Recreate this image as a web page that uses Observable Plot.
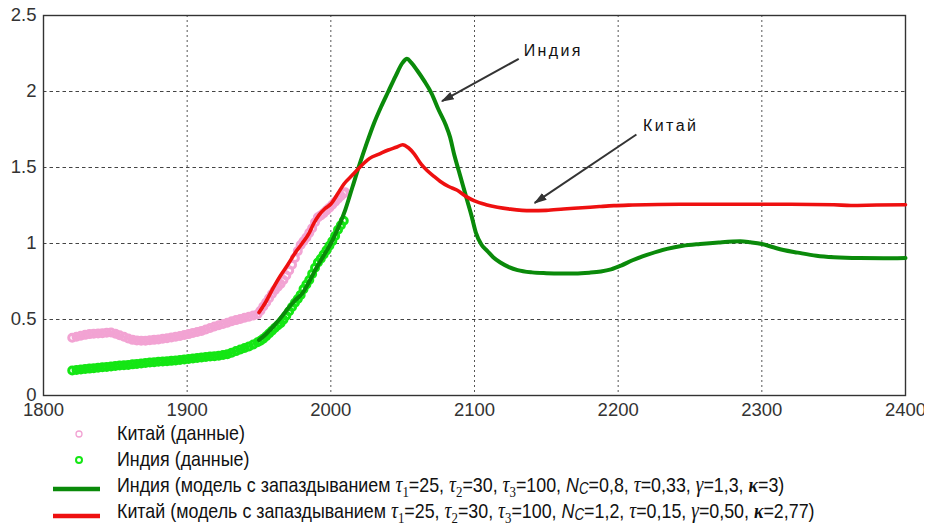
<!DOCTYPE html>
<html>
<head>
<meta charset="utf-8">
<script src="https://cdn.jsdelivr.net/npm/d3@7"></script>
<script src="https://cdn.jsdelivr.net/npm/@observablehq/plot@0.6"></script>
<style>
  html, body { margin: 0; padding: 0; background: #fff; }
  #wrap { width: 936px; height: 528px; overflow: hidden; position: relative; background: #fff; }
  #chart { width: 924px; height: 420px; overflow: hidden; }
  #chart svg { max-width: none !important; }
  #legend { position: absolute; left: 0; top: 420px; font-family: "Liberation Sans", Arial, sans-serif; font-size: 21px; color: #111; }
  .row { height: 26px; display: flex; align-items: center; white-space: nowrap; }
  .key { width: 117px; height: 26px; flex: none; }
  .t { display: inline-block; transform: scaleX(0.85); transform-origin: 0 50%; }
  .g { font-family: "Liberation Serif", serif; font-style: italic; font-size: 1.08em; }
  .k { font-family: "Liberation Serif", serif; font-style: italic; font-weight: bold; }
  .s { font-family: "Liberation Serif", serif; font-size: 0.72em; position: relative; top: 0.3em; }
  .n { font-style: italic; }
  .c { font-style: italic; font-size: 0.75em; position: relative; top: 0.15em; }
</style>
</head>
<body>
<div id="wrap">
  <div id="chart"></div>
  <div id="legend"></div>
</div>
<script>
// Axis ticks
const xTicks = [1800, 1900, 2000, 2100, 2200, 2300, 2400];
const yTicks = [0, 0.5, 1, 1.5, 2, 2.5];

// China, observed (relative units)
const chinaDataYears = [1820,1823,1826,1829,1832,1835,1838,1841,1844,1847,1850,1853,1856,1859,1862,1865,1868,1871,1874,1877,1880,1883,1886,1889,1892,1895,1898,1901,1904,1907,1910,1913,1916,1919,1922,1925,1928,1931,1934,1937,1940,1943,1946,1949,1951,1953,1955,1957,1959,1961,1963,1965,1967,1969,1971,1973,1975,1977,1979,1981,1983,1985,1987,1989,1991,1993,1995,1997,1999,2001,2003,2005,2007,2009,2010];
const chinaDataValues = [0.380,0.386,0.393,0.399,0.404,0.406,0.408,0.410,0.413,0.414,0.407,0.396,0.386,0.375,0.366,0.362,0.360,0.361,0.364,0.366,0.369,0.373,0.377,0.381,0.386,0.391,0.398,0.404,0.412,0.418,0.425,0.434,0.444,0.454,0.462,0.470,0.479,0.488,0.496,0.503,0.511,0.518,0.526,0.535,0.558,0.585,0.612,0.640,0.668,0.693,0.714,0.734,0.760,0.790,0.823,0.860,0.905,0.950,0.990,1.015,1.040,1.070,1.100,1.140,1.172,1.185,1.200,1.218,1.236,1.255,1.275,1.294,1.312,1.330,1.337];

// India, observed (relative units)
const indiaDataYears = [1820,1823,1826,1829,1832,1835,1838,1841,1844,1847,1850,1853,1856,1859,1862,1865,1868,1871,1874,1877,1880,1883,1886,1889,1892,1895,1898,1901,1904,1907,1910,1913,1916,1919,1922,1925,1928,1931,1934,1937,1940,1943,1946,1949,1951,1953,1955,1957,1959,1961,1963,1965,1967,1969,1971,1973,1975,1977,1979,1981,1983,1985,1987,1989,1991,1993,1995,1997,1999,2001,2003,2005,2007,2009];
const indiaDataValues = [0.165,0.168,0.171,0.174,0.177,0.180,0.183,0.186,0.188,0.191,0.194,0.197,0.199,0.201,0.205,0.208,0.211,0.214,0.217,0.219,0.222,0.224,0.226,0.228,0.231,0.234,0.237,0.240,0.243,0.247,0.250,0.253,0.256,0.259,0.262,0.266,0.272,0.282,0.292,0.303,0.313,0.323,0.335,0.350,0.360,0.374,0.390,0.408,0.426,0.444,0.460,0.475,0.499,0.525,0.554,0.582,0.610,0.635,0.662,0.700,0.730,0.760,0.800,0.840,0.875,0.900,0.928,0.955,0.985,1.015,1.050,1.090,1.120,1.150];

// India, delayed model
const indiaModelYears = [1950,1955,1960,1965,1970,1975,1980,1985,1990,1995,2000,2005,2010,2015,2020,2025,2030,2035,2040,2045,2050,2053,2056,2060,2065,2070,2075,2080,2083,2086,2089,2092,2095,2098,2101,2105,2109,2113,2118,2124,2130,2140,2150,2160,2170,2180,2188,2195,2202,2210,2220,2234,2245,2257,2270,2285,2292,2300,2308,2315,2325,2338,2350,2368,2385,2400];
const indiaModelValues = [0.365,0.405,0.455,0.510,0.570,0.625,0.670,0.750,0.840,0.920,1.000,1.100,1.220,1.370,1.520,1.660,1.790,1.900,2.000,2.100,2.190,2.215,2.190,2.140,2.070,1.990,1.880,1.780,1.700,1.580,1.480,1.380,1.280,1.180,1.070,0.990,0.950,0.910,0.875,0.845,0.825,0.810,0.805,0.803,0.803,0.808,0.816,0.830,0.855,0.890,0.925,0.965,0.985,0.997,1.007,1.014,1.008,0.997,0.975,0.957,0.940,0.920,0.910,0.904,0.903,0.904];

// China, delayed model
const chinaModelYears = [1950,1955,1960,1965,1970,1976,1980,1985,1988,1992,1996,2000,2005,2009,2015,2020,2027,2034,2040,2046,2050,2054,2058,2063,2067,2072,2076,2082,2088,2094,2100,2108,2116,2125,2139,2150,2162,2175,2187,2197,2210,2243,2280,2320,2350,2362,2380,2400];
const chinaModelValues = [0.546,0.620,0.710,0.790,0.860,0.950,1.000,1.070,1.130,1.190,1.230,1.260,1.330,1.390,1.450,1.500,1.560,1.590,1.615,1.635,1.650,1.630,1.590,1.520,1.480,1.440,1.410,1.375,1.350,1.310,1.280,1.255,1.238,1.226,1.216,1.218,1.227,1.235,1.243,1.249,1.253,1.258,1.258,1.258,1.255,1.250,1.253,1.255];

// Callouts: label position and arrow (tail → tip), in data units
const calloutLabels = ["Индия", "Китай"];
const calloutLabelX = [2134.2, 2217.3];
const calloutLabelY = [2.268, 1.771];
const arrowX1 = [2130.8, 2212.7];
const arrowY1 = [2.215, 1.717];
const arrowX2 = [2077.4, 2141.9];
const arrowY2 = [1.936, 1.267];

// Legend entries and model parameters
const legendNames = ["Китай", "Индия", "Индия", "Китай"];
const paramNc = {"Индия": "0,8", "Китай": "1,2"};
const paramTau = {"Индия": "0,33", "Китай": "0,15"};
const paramGamma = {"Индия": "1,3", "Китай": "0,50"};
const paramKappa = {"Индия": "3", "Китай": "2,77"};

const colors = {
  chinaData: "#f2a3d3",
  indiaData: "#14e614",
  indiaModel: "#0a8a0a",
  chinaModel: "#ee1010",
  axis: "#333"
};

const chinaData = chinaDataYears.map((t, i) => ({t, v: chinaDataValues[i]}));
const indiaData = indiaDataYears.map((t, i) => ({t, v: indiaDataValues[i]}));
const indiaModel = indiaModelYears.map((t, i) => ({t, v: indiaModelValues[i]}));
const chinaModel = chinaModelYears.map((t, i) => ({t, v: chinaModelValues[i]}));
const callouts = calloutLabels.map((label, i) => ({
  label, lx: calloutLabelX[i], ly: calloutLabelY[i],
  x1: arrowX1[i], y1: arrowY1[i], x2: arrowX2[i], y2: arrowY2[i]
}));

// Solid triangular arrowhead
function solidHead(color) {
  const m = d3.create("svg:marker")
    .attr("viewBox", "-5 -5 10 10")
    .attr("markerWidth", 6.5)
    .attr("markerHeight", 6.5)
    .attr("refX", 4)
    .attr("orient", "auto")
    .attr("fill", color)
    .attr("stroke", "none");
  m.append("path").attr("d", "M-5,-3.2L5,0L-5,3.2Z");
  return m.node();
}

const chart = Plot.plot({
  width: 936,
  height: 420,
  marginLeft: 43,
  marginRight: 31,
  marginTop: 15,
  marginBottom: 25,
  style: {background: "transparent", fontFamily: "Liberation Sans, Arial, sans-serif", color: colors.axis, overflow: "visible"},
  x: {domain: [1800, 2400]},
  y: {domain: [0, 2.5]},
  marks: [
    Plot.ruleY(yTicks.slice(1, -1), {stroke: "#444", strokeWidth: 1, strokeDasharray: "3.5,3"}),
    Plot.ruleX(xTicks.slice(1, -1), {stroke: "#555", strokeWidth: 1, strokeDasharray: "2,3"}),
    Plot.frame({stroke: "#333", strokeWidth: 1.4}),
    Plot.axisX(xTicks, {tickSize: 0, tickPadding: 7, fontSize: 18.5, tickFormat: d => String(d), fill: "#333"}),
    Plot.axisY(yTicks, {tickSize: 0, tickPadding: 7, fontSize: 18.5, tickFormat: d => String(d), fill: "#333"}),
    Plot.dot(chinaData, {x: "t", y: "v", r: 3.5, stroke: colors.chinaData, strokeWidth: 3, fill: "none"}),
    Plot.dot(indiaData, {x: "t", y: "v", r: 3.5, stroke: colors.indiaData, strokeWidth: 3, fill: "none"}),
    Plot.line(indiaModel, {x: "t", y: "v", stroke: colors.indiaModel, strokeWidth: 4, curve: "monotone-x"}),
    Plot.line(chinaModel, {x: "t", y: "v", stroke: colors.chinaModel, strokeWidth: 3.6, curve: "monotone-x"}),
    Plot.link(callouts, {x1: "x1", y1: "y1", x2: "x2", y2: "y2", stroke: "#333", strokeWidth: 2, markerEnd: solidHead}),
    Plot.text(callouts, {x: "lx", y: "ly", text: "label", textAnchor: "start", fontSize: 16, fill: "#111"})
  ]
});

d3.select(chart).selectAll('g[aria-label="text"] text').style("letter-spacing", "2.4px");
document.getElementById("chart").appendChild(chart);

// Legend below the plot
function modelLabel(name) {
  return `${name} (модель с запаздыванием <span class="g">τ</span><span class="s">1</span>=25, ` +
    `<span class="g">τ</span><span class="s">2</span>=30, <span class="g">τ</span><span class="s">3</span>=100, ` +
    `<span class="n">N</span><span class="c">C</span>=${paramNc[name]}, <span class="g">τ</span>=${paramTau[name]}, ` +
    `<span class="g">γ</span>=${paramGamma[name]}, <span class="k">κ</span>=${paramKappa[name]})`;
}
const keys = [
  `<svg width="117" height="26"><circle cx="79" cy="14" r="3" fill="none" stroke="${colors.chinaData}" stroke-width="1.3"/></svg>`,
  `<svg width="117" height="26"><circle cx="79" cy="14" r="3" fill="none" stroke="${colors.indiaData}" stroke-width="2"/></svg>`,
  `<svg width="117" height="26"><line x1="53" x2="100" y1="17" y2="17" stroke="${colors.indiaModel}" stroke-width="4.5"/></svg>`,
  `<svg width="117" height="26"><line x1="53" x2="100" y1="18" y2="18" stroke="${colors.chinaModel}" stroke-width="4.5"/></svg>`
];
const texts = [
  `${legendNames[0]} (данные)`,
  `${legendNames[1]} (данные)`,
  modelLabel(legendNames[2]),
  modelLabel(legendNames[3])
];
document.getElementById("legend").innerHTML = texts.map((t, i) =>
  `<div class="row"><span class="key">${keys[i]}</span><span class="t">${t}</span></div>`).join("");
</script>
</body>
</html>
